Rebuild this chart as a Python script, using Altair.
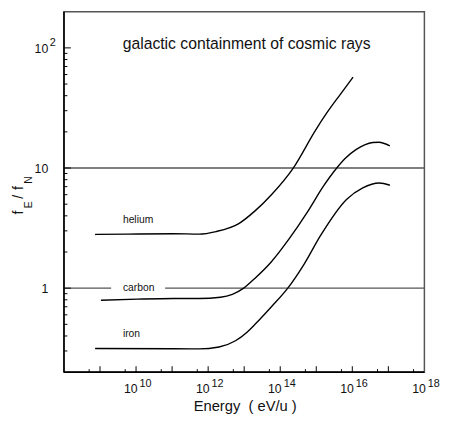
import altair as alt
import pandas as pd

# ---------------- data ----------------
elements = ["helium", "carbon", "iron"]

he_energy = [7.3e8, 5.9e9, 1.1e11, 5.6e11, 1.66e12, 7.1e12, 2.0e13, 5.7e13,
             2.3e14, 9.5e14, 2.0e15, 4.6e15, 1.05e16]
he_ratio = [2.80, 2.82, 2.84, 2.82, 2.96, 3.45, 4.4, 6.0,
            10.0, 20.6, 29.0, 40.9, 57.1]

c_energy = [1.06e9, 1.1e10, 1.1e11, 5.6e11, 2.2e12, 4.7e12, 9.7e12, 2.0e13, 5.7e13,
            1.78e14, 5.6e14, 1.58e15, 3.7e15, 6.3e15, 1.29e16, 2.2e16,
            3.7e16, 5.5e16, 1.1e17]
c_ratio = [0.793, 0.81, 0.82, 0.82, 0.84, 0.888, 1.0, 1.21, 1.66,
           2.58, 4.27, 7.06, 10.0, 12.0, 14.3, 15.6,
           16.3, 16.4, 15.3]

fe_energy = [7.3e8, 1.1e11, 5.6e11, 2.0e12, 5.75e12, 1.2e13, 2.0e13, 5.7e13, 1.62e14,
             4.57e14, 1.32e15, 6.9e15, 1.95e16, 5.6e16, 1.1e17]
fe_ratio = [0.315, 0.313, 0.312, 0.324, 0.365, 0.43, 0.50, 0.70, 1.0,
            1.58, 2.75, 5.48, 6.84, 7.51, 7.19]

ref_levels = [1, 10]

x_major = [1e9, 1e10, 1e11, 1e12, 1e13, 1e14, 1e15, 1e16, 1e17]
x_minor = [5e8, 5e9, 5e10, 5e11, 5e12, 5e13, 5e14, 5e15, 5e16, 5e17]
x_label_vals = [1e10, 1e12, 1e14, 1e16, 1e18]
x_label_exp = ["10", "12", "14", "16", "18"]

y_major = [1, 10, 100]
y_minor = [0.3, 0.4, 0.5, 0.6, 0.7, 0.8, 0.9, 2, 3, 4, 5, 6, 7, 8, 9,
           20, 30, 40, 50, 60, 70, 80, 90]
y_label_vals = [1, 10, 100]
y_label_base = ["1", "10", "10"]
y_label_exp = ["", "", "2"]

title_text = "galactic containment of cosmic rays"
x_title = "Energy\u00a0\u00a0( eV/u )"

# ---------------- build tables ----------------
curves = pd.concat([
    pd.DataFrame({"element": "helium", "energy": he_energy, "ratio": he_ratio}),
    pd.DataFrame({"element": "carbon", "energy": c_energy, "ratio": c_ratio}),
    pd.DataFrame({"element": "iron", "energy": fe_energy, "ratio": fe_ratio}),
])

W, H = 367, 367
FONT = "Liberation Sans"
INK = "#111"

xs = alt.Scale(type="log", domain=[1e8, 1e18])
ys = alt.Scale(type="log", domain=[0.2, 200])
X = lambda f="energy": alt.X(f"{f}:Q", scale=xs, axis=None)
Y = lambda f="ratio": alt.Y(f"{f}:Q", scale=ys, axis=None)

one = pd.DataFrame({"a": [0]})

refs = alt.Chart(pd.DataFrame({"ratio": ref_levels})).mark_rule(
    color="#555", strokeWidth=1.4
).encode(y=Y(), x=alt.value(0), x2=alt.value(W))

gap = alt.Chart(one).mark_rect(color="white").encode(
    x=alt.value(48), x2=alt.value(103), y=alt.value(277), y2=alt.value(286)
)

lines = alt.Chart(curves).mark_line(
    color="black", strokeWidth=1.4, interpolate="monotone"
).encode(x=X(), y=Y(), detail="element:N", order=alt.Order("energy:Q"))

label_y = {"helium": 215.5, "carbon": 284.5, "iron": 331.5}
labels = [
    alt.Chart(pd.DataFrame({"t": [e]})).mark_text(
        align="left", baseline="alphabetic", fontSize=10.5, font=FONT, color=INK
    ).encode(text="t:N", x=alt.value(60), y=alt.value(label_y[e]))
    for e in elements
]

xmaj = alt.Chart(pd.DataFrame({"energy": x_major})).mark_rule(
    color="black", strokeWidth=1).encode(x=X(), y=alt.value(H), y2=alt.value(H - 6))
xmin = alt.Chart(pd.DataFrame({"energy": x_minor})).mark_rule(
    color="black", strokeWidth=1).encode(x=X(), y=alt.value(H), y2=alt.value(H - 3))
ymaj = alt.Chart(pd.DataFrame({"ratio": y_major})).mark_rule(
    color="black", strokeWidth=1).encode(y=Y(), x=alt.value(0), x2=alt.value(7))
ymin = alt.Chart(pd.DataFrame({"ratio": y_minor})).mark_rule(
    color="black", strokeWidth=1).encode(y=Y(), x=alt.value(0), x2=alt.value(3.5))

left_edge = alt.Chart(one).mark_rule(color="black", strokeWidth=1.6).encode(
    x=alt.value(0), y=alt.value(0), y2=alt.value(H))
bottom_edge = alt.Chart(one).mark_rule(color="black", strokeWidth=1.6).encode(
    y=alt.value(H), x=alt.value(0), x2=alt.value(W))

xl = pd.DataFrame({"energy": x_label_vals, "exp": x_label_exp})
xlab_base = alt.Chart(xl).mark_text(
    align="right", baseline="alphabetic", fontSize=12.5, font=FONT, color=INK, dx=1.5
).encode(x=X(), y=alt.value(388), text=alt.value("10"))
xlab_exp = alt.Chart(xl).mark_text(
    align="left", baseline="alphabetic", fontSize=11, font=FONT, color=INK, dx=3.5
).encode(x=X(), y=alt.value(382.5), text="exp:N")

yl = pd.DataFrame({"ratio": y_label_vals, "base": y_label_base, "exp": y_label_exp})
ylab_base = alt.Chart(yl).mark_text(
    align="right", baseline="middle", fontSize=12.5, font=FONT, color=INK, dy=1
).encode(y=Y(), x=alt.value(-16), text="base:N")
ylab_exp = alt.Chart(yl).mark_text(
    align="left", baseline="middle", fontSize=11, font=FONT, color=INK, dy=-5
).encode(y=Y(), x=alt.value(-14.5), text="exp:N")

title = alt.Chart(pd.DataFrame({"t": [title_text]})).mark_text(
    align="center", baseline="alphabetic", fontSize=16, font=FONT, color=INK
).encode(text="t:N", x=alt.value(186), y=alt.value(38))

xtitle = alt.Chart(pd.DataFrame({"t": [x_title]})).mark_text(
    align="center", baseline="alphabetic", fontSize=15, font=FONT, color=INK
).encode(text="t:N", x=alt.value(184.5), y=alt.value(406.5))

# y-axis title  f_E / f_N  (rotated, pieces)
ypieces = [("f", -42, 204.5, 14.5), ("E", -33, 196.5, 10.5), ("/", -42, 188.5, 14.5),
           ("f", -42, 179.5, 14.5), ("N", -33, 171.5, 10.5)]
ytitle = [
    alt.Chart(pd.DataFrame({"t": [t]})).mark_text(
        align="center", baseline="alphabetic", angle=270, fontSize=s,
        font=FONT, color=INK
    ).encode(text="t:N", x=alt.value(px), y=alt.value(py))
    for t, px, py, s in ypieces
]

chart = alt.layer(
    refs, gap, lines, *labels, xmaj, xmin, ymaj, ymin, left_edge, bottom_edge,
    xlab_base, xlab_exp, ylab_base, ylab_exp, title, xtitle, *ytitle
).properties(
    width=W, height=H,
    autosize=alt.AutoSizeParams(type="none"),
    padding={"left": 57, "top": 0, "right": 22, "bottom": 48},
).configure_view(stroke="#555", strokeWidth=1.5)

chart.save("out.html", embed_options={"renderer": "svg", "actions": False})
